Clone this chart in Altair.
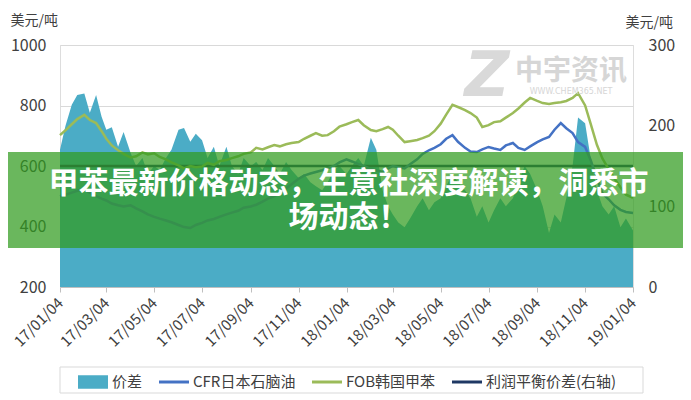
import altair as alt
import pandas as pd

# ---------------- data ----------------
week_days = [4, 11, 19, 26]
dates = [f"{y}/{m:02d}/{d:02d}" for y in (2017, 2018) for m in range(1, 13) for d in week_days] + ["2019/01/04"]

# FOB韩国甲苯 (left axis, USD/t)
fob_korea_toluene = [
    702, 718, 738, 755,   # 2017-01
    769, 752, 742, 715,   # 2017-02
    690, 668, 652, 640,   # 2017-03
    628, 632, 645, 638,   # 2017-04
    642, 630, 622, 612,   # 2017-05
    602, 592, 600, 596,   # 2017-06
    598, 610, 604, 616,   # 2017-07
    620, 626, 632, 640,   # 2017-08
    645, 660, 655, 662,   # 2017-09
    669, 665, 672, 676,   # 2017-10
    679, 690, 700, 709,   # 2017-11
    700, 702, 715, 730,   # 2017-12
    738, 745, 752, 735,   # 2018-01
    719, 715, 722, 729,   # 2018-02
    720, 700, 679, 682,   # 2018-03
    686, 692, 700, 715,   # 2018-04
    740, 770, 802, 795,   # 2018-05
    785, 775, 760, 729,   # 2018-06
    735, 745, 748, 760,   # 2018-07
    775, 790, 810, 825,   # 2018-08
    815, 808, 805, 808,   # 2018-09
    811, 815, 825, 841,   # 2018-10
    800, 740, 670, 625,   # 2018-11
    590, 560, 530, 505,   # 2018-12
    495,                  # 2019-01-04
]

# CFR日本石脑油 (left axis, USD/t)
cfr_japan_naphtha = [
    500, 505, 512, 518,
    522, 512, 500, 492,
    486, 476, 470, 466,
    470, 460, 450, 440,
    432, 426, 420, 414,
    405, 398, 395, 405,
    412, 420, 425, 432,
    440, 446, 452, 462,
    466, 472, 482, 492,
    500, 512, 526, 540,
    558, 568, 575, 580,
    586, 592, 600, 612,
    622, 615, 606, 600,
    590, 586, 580, 592,
    600, 596, 592, 606,
    622, 640, 652, 660,
    672, 690, 702, 680,
    660, 648, 646, 655,
    663, 658, 653, 668,
    676, 660, 653, 665,
    679, 688, 696, 720,
    742, 725, 709, 679,
    663, 620, 560, 510,
    490, 470, 455, 448,
    445,
]

# 价差 (right axis, USD/t)
spread = [
    170, 200, 226, 238,
    240, 216, 238, 211,
    195, 198, 174, 192,
    166, 150, 160, 140,
    150, 145, 160, 170,
    195, 197, 180, 190,
    182, 160, 174, 150,
    174, 150, 140, 160,
    150, 155, 145, 160,
    150, 140, 155, 145,
    135, 140, 130, 125,
    120, 130, 145, 150,
    140, 150, 160, 150,
    185, 170, 120, 100,
    90, 80, 74, 85,
    100, 110, 95, 105,
    110, 125, 140, 130,
    120, 110, 87, 100,
    80, 95, 110, 100,
    110, 130, 150, 140,
    120, 100, 67, 90,
    80, 110, 150, 210,
    203, 160, 120, 100,
    90, 100, 74, 85,
    70,
]

# 利润平衡价差 (right axis)
breakeven_dates = ["2017/01/04", "2019/01/04"]
breakeven_values = [150, 150]

series_names = ["价差", "CFR日本石脑油", "FOB韩国甲苯", "利润平衡价差(右轴)"]
series_colors = ["#4bacc6", "#4472c4", "#9bbb59", "#1f3864"]
legend_shapes = [
    "M-1,-0.45H1V0.45H-1Z",
    "M-1,-0.1H1V0.1H-1Z",
    "M-1,-0.1H1V0.1H-1Z",
    "M-1,-0.1H1V0.1H-1Z",
]

left_ticks = [200, 400, 600, 800, 1000]
right_ticks = [0, 100, 200, 300]
x_ticks = [alt.DateTime(year=2017 + (i // 6), month=(2 * i) % 12 + 1, date=4) for i in range(13)]

unit_label = "美元/吨"
banner_text = "甲苯最新价格动态，生意社深度解读，洞悉市\n场动态！"
wm_name = "中宇资讯"
wm_url = "WWW.CHEM365.NET"
wm_logo = "Z"

FONT = "Noto Sans CJK SC"
W, H = 573, 242

df = pd.DataFrame({
    "date": dates,
    "toluene": fob_korea_toluene,
    "naphtha": cfr_japan_naphtha,
    "spread": spread,
})
be_df = pd.DataFrame({"date": breakeven_dates, "value": breakeven_values})

x_axis = alt.Axis(
    values=x_ticks, format="%y/%m/%d", labelAngle=-45, labelAlign="right",
    labelBaseline="middle", labelFontSize=15, labelColor="#404040", labelPadding=8,
    tickColor="#bfbfbf", domainColor="#bfbfbf", tickSize=5, grid=False, title=None,
    labelOverlap=False, labelFlush=False,
)
x_enc = alt.X("date:T", scale=alt.Scale(domain=[x_ticks[0], x_ticks[-1]]), axis=x_axis)

right_scale = alt.Scale(domain=[0, 300], nice=False, zero=True)
left_scale = alt.Scale(domain=[200, 1000], nice=False, zero=False)

right_axis = alt.Axis(
    orient="right", values=right_ticks, format="d", title=unit_label, titleAngle=0, titleX=-8, titleY=-23,
    titleAlign="left", titleBaseline="middle", titleFontSize=14, titleFontWeight="normal",
    titleColor="#404040", labelFontSize=16, labelColor="#404040", labelPadding=15,
    ticks=False, domain=False, grid=False,
)
left_axis = alt.Axis(
    orient="left", values=left_ticks, format="d", title=unit_label, titleAngle=0, titleX=-50, titleY=-25,
    titleAlign="left", titleBaseline="middle", titleFontSize=14, titleFontWeight="normal",
    titleColor="#404040", labelFontSize=16, labelColor="#404040", labelPadding=14,
    ticks=False, domain=False, grid=True, gridColor="#d9d9d9", gridWidth=1,
)

area = alt.Chart(df).mark_area(color=series_colors[0], opacity=1).encode(
    x=x_enc, y=alt.Y("spread:Q", scale=right_scale, axis=right_axis)
)
navy = alt.Chart(be_df).mark_line(color=series_colors[3], strokeWidth=2.5).encode(
    x=x_enc, y=alt.Y("value:Q", scale=right_scale, axis=right_axis)
)
right_layer = alt.layer(area, navy)

blue = alt.Chart(df).mark_line(color=series_colors[1], strokeWidth=2.5).encode(
    x=x_enc, y=alt.Y("naphtha:Q", scale=left_scale, axis=left_axis)
)
green = alt.Chart(df).mark_line(color=series_colors[2], strokeWidth=2.5).encode(
    x=x_enc, y=alt.Y("toluene:Q", scale=left_scale, axis=left_axis)
)

legend_props = dict(
    orient="none", legendX=13, legendY=317, direction="horizontal", title=None,
    labelFont=FONT, labelFontSize=15, labelColor="#404040", symbolSize=900,
    symbolStrokeWidth=0, columnPadding=16, labelOffset=4, padding=5, labelLimit=300,
)
legend_layer = alt.Chart(pd.DataFrame({"series": series_names})).transform_filter("false").mark_point(
    filled=True, opacity=1
).encode(
    color=alt.Color("series:N", scale=alt.Scale(domain=series_names, range=series_colors),
                    legend=alt.Legend(**legend_props)),
    shape=alt.Shape("series:N", scale=alt.Scale(domain=series_names, range=legend_shapes),
                    legend=alt.Legend(**legend_props)),
)
left_layer = alt.layer(blue, green, legend_layer)

one = pd.DataFrame({"k": [0]})

legend_box = alt.Chart(one).mark_rect(fill="white", stroke="#d9d9d9", strokeWidth=1, clip=False).encode(
    x=alt.value(0), x2=alt.value(583), y=alt.value(322), y2=alt.value(348)
)

wm_logo_layer = alt.Chart(pd.DataFrame({"t": [wm_logo]})).mark_text(
    font="DejaVu Sans", fontSize=62, fontWeight="bold", fontStyle="italic", color="#d9d9d9",
    align="center", baseline="middle"
).encode(text="t:N", x=alt.value(427), y=alt.value(32))
wm_name_layer = alt.Chart(pd.DataFrame({"t": [wm_name]})).mark_text(
    font=FONT, fontSize=28, fontWeight="bold", color="#d6d6d6", align="center", baseline="middle"
).encode(text="t:N", x=alt.value(511), y=alt.value(27))
wm_url_layer = alt.Chart(pd.DataFrame({"t": [wm_url]})).mark_text(
    font="DejaVu Sans", fontSize=8, color="#d6d6d6", align="center", baseline="middle"
).encode(text="t:N", x=alt.value(511), y=alt.value(47))

banner = alt.Chart(one).mark_rect(fill="#309b1f", opacity=0.72, clip=False).encode(
    x=alt.value(-52), x2=alt.value(W + 50), y=alt.value(107), y2=alt.value(203)
)
banner_label = alt.Chart(pd.DataFrame({"t": [banner_text]})).mark_text(
    font=FONT, fontSize=30, fontWeight="bold", color="white", align="center",
    baseline="middle", lineBreak="\n", lineHeight=34
).encode(text="t:N", x=alt.value(W / 2 + 2), y=alt.value(139))

chart = alt.layer(
    legend_box, right_layer, left_layer, wm_logo_layer, wm_name_layer, wm_url_layer, banner, banner_label
).resolve_scale(y="independent").properties(
    width=W, height=H,
    autosize=alt.AutoSizeParams(type="none"),
    padding={"left": 52, "top": 37, "right": 50, "bottom": 108},
).configure_view(stroke=None).configure(
    font=FONT
).configure_axis(labelFont=FONT, titleFont=FONT)

chart.save("out.html", embed_options={"renderer": "svg", "actions": False})
